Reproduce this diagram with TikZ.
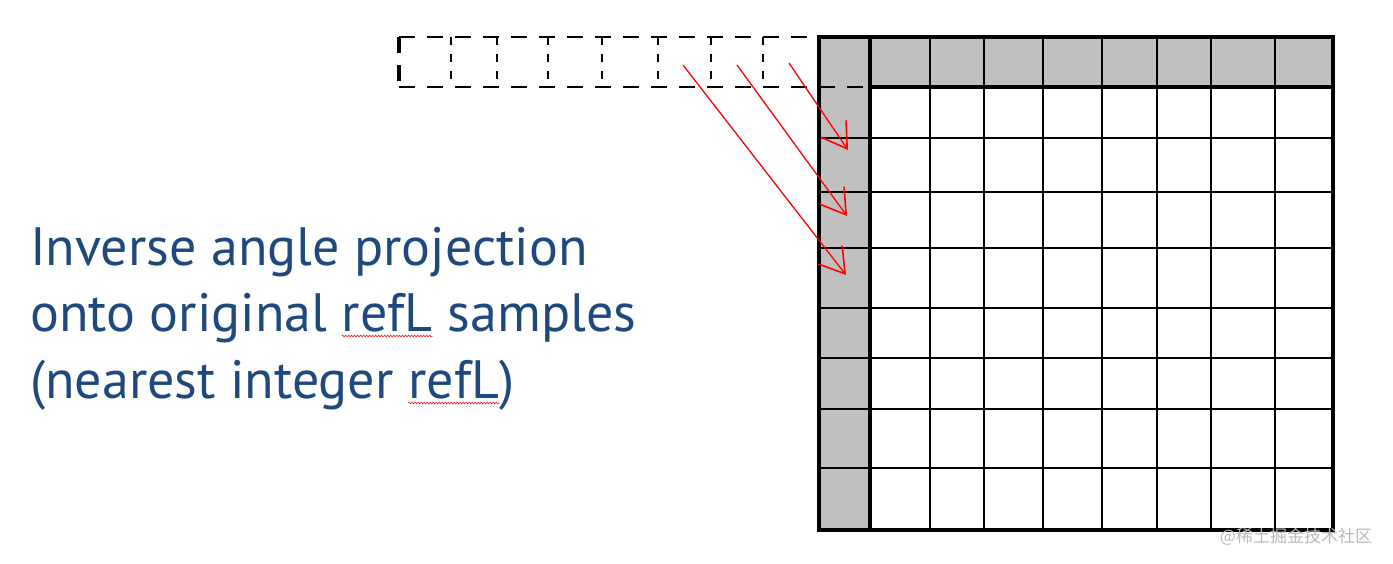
\documentclass[tikz,border=0pt]{standalone}
\usepackage{fontspec}
\setmainfont{PT Sans}
\newfontfamily\cjkfont{Noto Sans CJK SC}
\usetikzlibrary{
	arrows.meta,
	decorations.pathmorphing
}
\definecolor{textblue}{RGB}{31,73,125}
\definecolor{cellgray}{RGB}{192,192,192}
\definecolor{marksgray}{RGB}{185,185,185}

\begin{document}
\begin{tikzpicture}[x=1pt, y=-1pt,
    thickline/.style={line width=3.6pt},
    thinline/.style={line width=1.7pt},
    dashrow/.style={line width=2.8pt, dash pattern=on 16pt off 12pt},
    dashcol/.style={line width=1.9pt, dash pattern=on 8pt off 9pt},
    projarrow/.style={red, line width=1.3pt, -{Straight Barb[length=24pt,width=30pt,line width=1.6pt]}},
    squiggle/.style={red, line width=0.5pt, decorate, decoration={snake, amplitude=0.9pt, segment length=3pt}},
    caption/.style={font=\fontsize{54}{66}\selectfont, text=textblue, inner sep=0pt, anchor=base west}
]
\useasboundingbox (0,0) rectangle (1393,563);

% Gray cells: left column and top row
\fill[cellgray] (819,37) rectangle (870,530);
\fill[cellgray] (870,37) rectangle (1333,87);

% Inner grid lines
\foreach \x in {930,984,1043,1102,1157,1211,1275}
    \draw[thinline] (\x,37) -- (\x,530);
\foreach \y in {138,192,248,308,358,409,468}
    \draw[thinline] (819,\y) -- (1333,\y);

% Extended row (dashed)
\draw[dashrow] (399,37) -- (819,37);
\draw[dashrow] (399,87) -- (870,87);
\draw[dashrow, line width=3.2pt] (399,37) -- (399,87);
\foreach \x in {451,497,548,602,658,711,763}
    \draw[dashcol] (\x,37) -- (\x,87);

% Thick outlines
\draw[thickline] (819,37) rectangle (870,530);
\draw[thickline] (870,37) rectangle (1333,530);
\draw[thickline] (870,87) -- (1333,87);

% Projection arrows
\coordinate (src1) at (683,65);
\coordinate (src2) at (737,65);
\coordinate (src3) at (789,63);
\coordinate (dst1) at (846,275);
\coordinate (dst2) at (847,216);
\coordinate (dst3) at (848,150);
\draw[projarrow] (src1) -- (dst1);
\draw[projarrow] (src2) -- (dst2);
\draw[projarrow] (src3) -- (dst3);

% Caption
\node[caption] (line1) at (30,265) {Inverse angle projection};
\node[caption] (line2a) at (30,331) {onto original\ \null};
\node[caption] (ref2) at (line2a.base east) {refL};
\node[caption] (line2b) at (ref2.base east) {\ samples};
\node[caption] (line3a) at (30,398) {(nearest integer\ \null};
\node[caption] (ref3) at (line3a.base east) {refL};
\node[caption] (line3b) at (ref3.base east) {)};

% Spell-check marks under refL
\draw[squiggle] ([yshift=-5pt]ref2.base west) -- ([yshift=-5pt]ref2.base east);
\draw[squiggle] ([yshift=-5pt]ref3.base west) -- ([yshift=-5pt]ref3.base east);

% Watermark
\node[text=marksgray, font=\cjkfont\fontsize{17}{17}\selectfont, inner sep=0pt] (mark) at (1296,537) {@稀土掘金技术社区};

\end{tikzpicture}
\end{document}
